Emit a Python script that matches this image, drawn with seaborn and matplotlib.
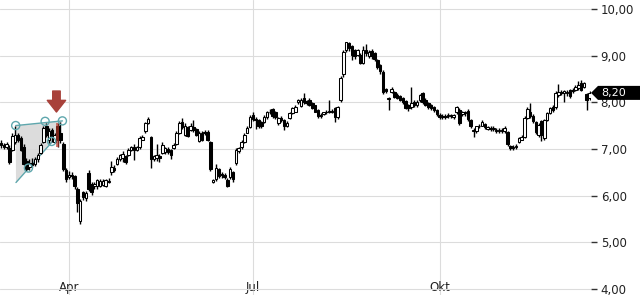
import numpy as np
import pandas as pd
import matplotlib
matplotlib.use("Agg")
import matplotlib.pyplot as plt
import matplotlib.transforms as mtransforms
from matplotlib.patches import Polygon
import seaborn as sns

# ---------------- data ----------------
start_date = "2021-02-26"

open_ = [
    7.12, 7.08, 7.05, 7.02, 6.98, 7.15, 7.30, 7.24, 7.05, 6.75,
    6.62, 6.70, 6.68, 6.78, 6.92, 7.15, 7.50, 7.18, 7.40, 7.15,
    7.50, 7.35, 7.10, 6.55, 6.40, 6.45, 6.42, 6.15, 5.46, 6.08,
    5.95, 6.48, 6.25, 6.20, 6.20, 6.20, 6.22, 6.20, 6.30, 6.50,
    6.60, 6.68, 6.78, 6.80, 6.84, 6.88, 6.98, 7.03, 6.98, 7.04,
    7.20, 7.38, 7.56, 7.25, 6.78, 6.80, 6.84, 6.92, 6.94, 7.00,
    6.98, 7.02, 7.10, 7.35, 7.57, 7.30, 7.47, 7.40, 7.46, 7.42,
    7.16, 7.35, 7.34, 7.36, 7.14, 6.30, 6.36, 6.56, 6.44, 6.45,
    6.34, 6.40, 6.50, 6.70, 6.95, 7.03, 7.15, 7.35, 7.47, 7.72,
    7.64, 7.62, 7.58, 7.58, 7.68, 7.78, 7.85, 7.80, 7.56, 7.66,
    7.62, 7.50, 7.67, 7.77, 7.80, 8.00, 7.92, 8.10, 8.02, 8.05,
    7.98, 7.93, 7.84, 7.70, 7.74, 7.78, 7.80, 7.80, 7.88, 7.68,
    8.05, 8.60, 9.12, 9.27, 9.20, 9.12, 9.02, 9.02, 8.85, 9.12,
    9.00, 9.10, 9.05, 8.90, 8.80, 8.65, 8.28, 8.06, 8.22, 8.22,
    8.16, 8.13, 8.10, 8.02, 7.94, 7.90, 8.00, 7.93, 8.05, 8.20,
    8.05, 7.98, 7.94, 7.90, 7.84, 7.73, 7.69, 7.70, 7.70, 7.72,
    7.68, 7.78, 7.84, 7.74, 7.78, 7.82, 7.62, 7.38, 7.38, 7.48,
    7.50, 7.54, 7.42, 7.44, 7.42, 7.41, 7.38, 7.40, 7.38, 7.36,
    7.06, 7.02, 7.03, 7.15, 7.20, 7.26, 7.67, 7.80, 7.70, 7.58,
    7.30, 7.60, 7.24, 7.62, 7.77, 7.90, 7.90, 8.16, 8.22, 8.20,
    8.22, 8.26, 8.24, 8.27, 8.30, 8.41, 8.33, 8.18, 8.08,
]
high = [
    7.18, 7.12, 7.15, 7.08, 7.35, 7.48, 7.35, 7.28, 7.10, 6.80,
    6.78, 6.80, 6.82, 6.92, 7.12, 7.50, 7.55, 7.45, 7.45, 7.35,
    7.56, 7.58, 7.15, 6.60, 6.52, 6.50, 6.45, 6.18, 5.92, 6.10,
    6.10, 6.55, 6.30, 6.30, 6.36, 6.35, 6.36, 6.36, 6.38, 6.75,
    6.65, 6.82, 6.90, 6.95, 6.88, 7.02, 7.06, 7.10, 7.06, 7.28,
    7.30, 7.58, 7.68, 7.28, 6.88, 7.10, 6.90, 7.15, 7.05, 7.05,
    7.00, 7.12, 7.38, 7.60, 7.66, 7.55, 7.50, 7.55, 7.62, 7.45,
    7.38, 7.38, 7.40, 7.40, 7.16, 6.36, 6.68, 6.60, 6.50, 6.48,
    6.38, 6.62, 6.52, 7.02, 7.05, 7.18, 7.35, 7.50, 7.72, 7.80,
    7.68, 7.65, 7.60, 7.72, 7.82, 7.85, 7.88, 7.82, 7.68, 7.70,
    7.65, 7.60, 7.80, 7.90, 7.95, 8.06, 8.08, 8.20, 8.05, 8.08,
    8.00, 7.95, 7.86, 7.76, 7.80, 7.84, 8.05, 7.86, 7.90, 7.92,
    8.56, 9.12, 9.30, 9.30, 9.22, 9.15, 9.15, 9.05, 9.20, 9.25,
    9.12, 9.15, 9.08, 8.92, 8.82, 8.68, 8.30, 8.12, 8.32, 8.25,
    8.20, 8.15, 8.12, 8.04, 7.96, 8.32, 8.04, 8.04, 8.18, 8.22,
    8.08, 8.00, 7.96, 7.92, 7.86, 7.76, 7.74, 7.74, 7.76, 7.75,
    7.75, 7.92, 7.88, 7.82, 7.82, 7.86, 7.65, 7.44, 7.50, 7.54,
    7.62, 7.56, 7.50, 7.48, 7.48, 7.44, 7.44, 7.44, 7.48, 7.38,
    7.08, 7.08, 7.10, 7.26, 7.30, 7.70, 7.90, 7.98, 7.74, 7.60,
    7.55, 7.62, 7.65, 7.80, 7.90, 7.94, 8.24, 8.38, 8.26, 8.27,
    8.26, 8.28, 8.30, 8.36, 8.46, 8.48, 8.44, 8.20, 8.24,
]
low = [
    7.02, 7.00, 7.00, 6.68, 6.95, 7.10, 7.15, 6.95, 6.65, 6.52,
    6.55, 6.62, 6.64, 6.72, 6.90, 7.12, 7.25, 7.12, 7.15, 7.12,
    7.04, 7.12, 6.52, 6.30, 6.35, 6.35, 6.15, 5.65, 5.40, 5.90,
    5.88, 6.10, 6.02, 6.15, 6.15, 6.18, 6.20, 6.18, 6.26, 6.45,
    6.50, 6.65, 6.74, 6.72, 6.68, 6.85, 6.95, 6.77, 6.95, 7.00,
    7.18, 7.35, 7.54, 6.60, 6.74, 6.75, 6.72, 6.90, 6.90, 6.90,
    6.78, 7.00, 7.08, 7.32, 7.42, 7.28, 7.25, 7.38, 7.36, 7.28,
    7.14, 7.16, 7.30, 7.16, 6.52, 6.26, 6.32, 6.38, 6.38, 6.35,
    6.18, 6.36, 6.30, 6.66, 6.92, 7.00, 7.12, 7.33, 7.45, 7.60,
    7.42, 7.45, 7.45, 7.55, 7.65, 7.74, 7.66, 7.65, 7.52, 7.58,
    7.40, 7.46, 7.64, 7.75, 7.78, 7.96, 7.90, 7.96, 7.94, 7.92,
    7.85, 7.78, 7.66, 7.66, 7.72, 7.75, 7.76, 7.76, 7.58, 7.64,
    8.00, 8.55, 9.08, 9.10, 8.90, 8.92, 8.98, 8.82, 8.82, 9.00,
    8.95, 8.92, 8.88, 8.72, 8.60, 8.18, 8.20, 7.84, 8.20, 8.08,
    8.06, 8.02, 7.97, 7.85, 7.82, 7.86, 7.90, 7.90, 8.00, 7.96,
    7.92, 7.86, 7.84, 7.80, 7.70, 7.64, 7.64, 7.63, 7.66, 7.66,
    7.64, 7.75, 7.52, 7.70, 7.70, 7.60, 7.44, 7.26, 7.35, 7.44,
    7.48, 7.42, 7.40, 7.38, 7.38, 7.35, 7.35, 7.35, 7.35, 7.06,
    6.98, 6.98, 7.00, 7.12, 7.18, 7.24, 7.64, 7.66, 7.56, 7.32,
    7.26, 7.16, 7.20, 7.60, 7.74, 7.80, 7.86, 8.12, 8.16, 8.00,
    8.14, 8.10, 8.20, 8.24, 8.27, 8.24, 8.30, 7.84, 8.04,
]
close = [
    7.08, 7.05, 7.10, 6.72, 7.28, 7.30, 7.20, 6.98, 6.68, 6.58,
    6.70, 6.66, 6.78, 6.88, 7.08, 7.45, 7.30, 7.38, 7.28, 7.30,
    7.20, 7.18, 6.58, 6.35, 6.45, 6.42, 6.20, 5.85, 5.88, 5.97,
    6.05, 6.14, 6.08, 6.25, 6.33, 6.32, 6.32, 6.34, 6.32, 6.62,
    6.55, 6.78, 6.86, 6.90, 6.72, 6.97, 7.03, 6.98, 7.03, 7.24,
    7.26, 7.55, 7.64, 6.78, 6.84, 6.86, 6.80, 7.08, 7.02, 6.93,
    6.88, 7.08, 7.34, 7.55, 7.46, 7.50, 7.28, 7.50, 7.40, 7.30,
    7.34, 7.20, 7.37, 7.20, 6.56, 6.34, 6.60, 6.42, 6.45, 6.40,
    6.20, 6.58, 6.35, 6.98, 7.02, 7.15, 7.30, 7.45, 7.68, 7.63,
    7.62, 7.48, 7.48, 7.68, 7.80, 7.80, 7.70, 7.68, 7.66, 7.62,
    7.48, 7.56, 7.77, 7.88, 7.90, 8.04, 8.05, 8.00, 7.98, 7.95,
    7.88, 7.80, 7.70, 7.73, 7.78, 7.80, 7.81, 7.82, 7.68, 7.90,
    8.52, 9.08, 9.28, 9.16, 9.02, 9.00, 9.12, 8.85, 9.12, 9.06,
    9.08, 8.98, 8.92, 8.76, 8.66, 8.22, 8.23, 8.10, 8.28, 8.12,
    8.10, 8.05, 8.00, 7.88, 7.88, 7.98, 7.94, 8.00, 8.16, 8.00,
    7.94, 7.90, 7.88, 7.84, 7.74, 7.68, 7.71, 7.68, 7.72, 7.70,
    7.72, 7.90, 7.56, 7.78, 7.76, 7.64, 7.48, 7.41, 7.48, 7.50,
    7.58, 7.46, 7.47, 7.42, 7.44, 7.38, 7.41, 7.38, 7.45, 7.10,
    7.02, 7.05, 7.06, 7.24, 7.26, 7.66, 7.86, 7.70, 7.60, 7.36,
    7.52, 7.30, 7.62, 7.77, 7.88, 7.84, 8.20, 8.22, 8.20, 8.23,
    8.20, 8.14, 8.27, 8.33, 8.37, 8.27, 8.41, 8.05, 8.20,
]

y_ticks = [4, 5, 6, 7, 8, 9, 10]
month_numbers = [4, 7, 10]
month_names = ["Apr", "Jul", "Okt"]
last_price = 8.20

# triangle pattern annotation (candle index, price)
pattern_idx = [5.2, 15.6, 21.7, 9.7, 17.9]
pattern_val = [7.50, 7.59, 7.60, 6.59, 7.16]
fill_idx = [5.2, 21.7, 19.4, 5.3]
fill_val = [7.50, 7.60, 7.24, 6.28]
upper_idx = [5.2, 21.7]
upper_val = [7.50, 7.60]
lower_idx = [5.3, 19.4]
lower_val = [6.28, 7.24]
signal_idx = 20
arrow_from = 8.24
arrow_to = 7.79

# ---------------- style ----------------
sns.set_theme(style="whitegrid")
plt.rcParams["font.family"] = ["DejaVu Sans"]

df = pd.DataFrame({"open": open_, "high": high, "low": low, "close": close})
df["date"] = pd.bdate_range(start_date, periods=len(df))
df["pos"] = np.arange(len(df))
up = df["close"] >= df["open"]

fig = plt.figure(figsize=(6.4, 3.0), dpi=100)
ax = fig.add_axes([0, 5 / 300, 591 / 640, 295 / 300])
ax.set_facecolor("white")

# pattern fill + lines (under candles)
ax.add_patch(Polygon(np.column_stack([fill_idx, fill_val]), closed=True,
                     facecolor="#d9d9d9", edgecolor="none", alpha=0.9, zorder=1))
ax.plot(upper_idx, upper_val, color="#5fa7ad", lw=1, zorder=2)
ax.plot(lower_idx, lower_val, color="#5fa7ad", lw=1, zorder=2)

# candles
ax.vlines(df["pos"], df["low"], df["high"], color="black", lw=1, zorder=3)
body_h = np.maximum((df["close"] - df["open"]).abs(), 0.015)
body_b = np.minimum(df["open"], df["close"])
ax.bar(df["pos"], body_h, bottom=body_b, width=0.9,
       color=np.where(up, "white", "black"), edgecolor="black",
       linewidth=0.75, zorder=4)

# highlighted signal candle
ax.bar([signal_idx], [df["high"][signal_idx] - df["low"][signal_idx]],
       bottom=[df["low"][signal_idx]], width=0.85, color="#c0392b",
       alpha=0.65, linewidth=0, zorder=5)

# pattern circles
sns.scatterplot(x=pattern_idx, y=pattern_val, ax=ax, s=34, marker="o",
                facecolor="none", edgecolor="#5fa7ad", linewidth=1, zorder=6)

# signal arrow
ax.annotate("", xy=(signal_idx - 0.4, arrow_to), xytext=(signal_idx - 0.4, arrow_from),
            arrowprops=dict(arrowstyle="simple,head_width=1.1,head_length=0.7,tail_width=0.45",
                            color="#a8413a", shrinkA=0, shrinkB=0), zorder=7)

# axes limits
ax.set_xlim(-0.35, 208.5)
ax.set_ylim(3.87, 10.19)

# ticks
ax.yaxis.tick_right()
ax.set_yticks(y_ticks)
ax.set_yticklabels([f"{v:.2f}".replace(".", ",") for v in y_ticks])
month_pos = [int(np.argmax(df["date"].dt.month.values == m)) for m in month_numbers]
ax.set_xticks(month_pos)
ax.set_xticklabels(month_names)
ax.tick_params(axis="y", length=4, width=1, color="#333333", labelsize=8.5,
               pad=3, labelcolor="#222222", direction="out")
ax.tick_params(axis="x", length=3, width=1, color="#333333", labelsize=8.5,
               pad=-13, labelcolor="#222222", direction="out")
ax.grid(True, color="#dcdcdc", lw=0.8)
for s in ax.spines.values():
    s.set_visible(False)

# last price tag
trans = mtransforms.blended_transform_factory(ax.transAxes, ax.transData)
hh = 0.15
tag = Polygon([(1.0, last_price), (598 / 591, last_price + hh), (640 / 591, last_price + hh),
               (640 / 591, last_price - hh), (598 / 591, last_price - hh)],
              closed=True, facecolor="black", edgecolor="none", transform=trans,
              clip_on=False, zorder=10)
ax.add_patch(tag)
ax.text(614 / 591, last_price, f"{last_price:.2f}".replace(".", ","), transform=trans,
        color="white", fontsize=8, ha="center", va="center", zorder=11, clip_on=False)

fig.savefig("out.png", dpi=100)
